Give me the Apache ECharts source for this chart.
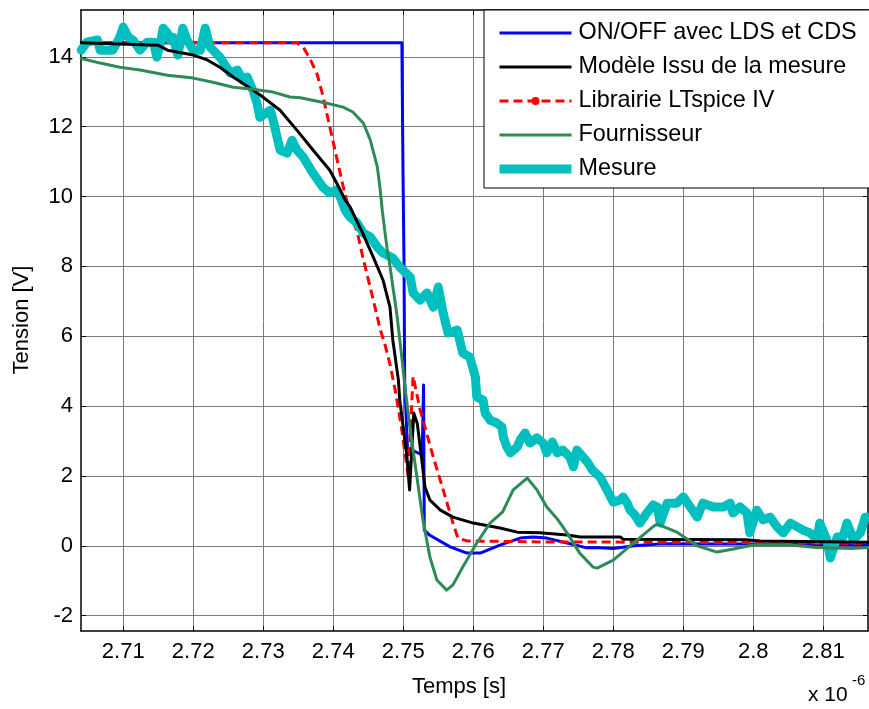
<!DOCTYPE html>
<html><head><meta charset="utf-8">
<script src="https://cdn.jsdelivr.net/npm/echarts@6/dist/echarts.min.js"></script>
<style>html,body{margin:0;padding:0;background:#fff}#c{width:869px;height:709px}</style>
</head><body><div id="c"></div>
<script>
const FONT = '"Liberation Sans", Arial, sans-serif';
const xTicks = [2.71, 2.72, 2.73, 2.74, 2.75, 2.76, 2.77, 2.78, 2.79, 2.80, 2.81];
const yTicks = [-2, 0, 2, 4, 6, 8, 10, 12, 14];
const xRange = [2.70396, 2.81639];
const yRange = [-2.44, 15.34];
const names = ['ON/OFF avec LDS et CDS', 'Modèle Issu de la mesure', 'Librairie LTspice IV', 'Fournisseur', 'Mesure'];

// time in µs (x 10^-6 s), voltage in V
const onoff = [
  [2.7040,14.4],[2.7498,14.4],[2.74996,10.75],[2.7501,8.2],[2.7502,4.7],[2.7506,2.8],[2.7527,2.6],
  [2.7529,4.6],[2.7530,0.45],[2.7538,0.3],[2.7567,-0.03],[2.7591,-0.21],[2.7610,-0.21],[2.7638,0.02],
  [2.7667,0.22],[2.7685,0.25],[2.7705,0.22],[2.7734,0.08],[2.7762,-0.06],[2.7781,-0.06],[2.7800,-0.08],
  [2.7830,0.0],[2.7870,0.06],[2.7950,0.05],[2.8000,0.05],[2.8100,0.03],[2.8164,0.02]
];
const modele = [
  [2.7040,14.4],[2.7150,14.33],[2.7163,14.19],[2.7200,14.05],[2.7220,13.91],[2.7238,13.70],[2.7257,13.42],
  [2.7285,13.05],[2.7296,12.90],[2.7324,12.47],[2.7348,11.9],[2.7371,11.33],[2.7395,10.75],[2.7405,10.38],
  [2.7417,9.9],[2.7424,9.7],[2.7442,8.95],[2.7457,8.27],[2.7471,7.61],[2.7481,6.83],[2.7485,5.9],
  [2.7493,4.75],[2.7495,4.17],[2.7505,2.6],[2.7509,1.6],[2.7515,3.8],[2.7520,3.5],[2.7527,2.37],
  [2.7531,1.68],[2.7538,1.31],[2.7553,1.02],[2.7571,0.82],[2.7600,0.65],[2.7638,0.51],[2.7663,0.39],
  [2.7695,0.37],[2.7734,0.31],[2.7753,0.25],[2.7810,0.25],[2.7814,0.19],[2.7990,0.17],[2.8010,0.14],
  [2.8164,0.1]
];
const ltspice = [
  [2.7040,14.4],[2.7348,14.4],[2.7357,14.28],[2.7367,13.93],[2.7377,13.5],[2.7385,12.9],[2.7395,12.0],
  [2.7405,11.1],[2.7414,10.3],[2.7424,9.5],[2.7434,9.0],[2.7443,8.2],[2.7457,7.05],[2.7467,6.2],
  [2.7474,5.75],[2.7481,5.2],[2.7489,4.4],[2.7498,3.3],[2.7507,2.0],[2.7514,4.85],[2.7524,3.9],
  [2.7542,2.6],[2.7557,1.6],[2.7571,0.65],[2.7578,0.22],[2.7591,0.14],[2.7700,0.11],[2.7900,0.1],
  [2.8164,0.07]
];
const fournisseur = [
  [2.7040,13.95],[2.7067,13.82],[2.7095,13.70],[2.7124,13.62],[2.7163,13.47],[2.7200,13.39],[2.7228,13.27],
  [2.7257,13.13],[2.7285,13.07],[2.7314,12.99],[2.7338,12.85],[2.7353,12.83],[2.7391,12.67],[2.7414,12.56],
  [2.7428,12.42],[2.7443,12.10],[2.7453,11.61],[2.7463,10.84],[2.7467,10.2],[2.7470,9.6],[2.7474,8.95],
  [2.7477,8.5],[2.7481,8.0],[2.7491,6.6],[2.7499,5.2],[2.7503,4.45],[2.7510,3.3],[2.7520,1.9],
  [2.7528,0.75],[2.7538,-0.32],[2.7548,-0.98],[2.7562,-1.27],[2.7571,-1.12],[2.7585,-0.61],[2.7605,0.08],
  [2.7624,0.65],[2.7642,0.97],[2.7657,1.6],[2.7677,1.94],[2.7691,1.6],[2.7705,1.11],[2.7720,0.77],
  [2.7734,0.37],[2.7752,-0.21],[2.7771,-0.61],[2.7777,-0.64],[2.7800,-0.41],[2.7830,0.1],[2.7857,0.55],
  [2.7863,0.62],[2.7890,0.4],[2.7920,0.0],[2.7948,-0.18],[2.7970,-0.1],[2.8000,0.02],[2.8050,0.03],
  [2.8090,-0.05],[2.8140,-0.08],[2.8164,-0.05]
];
const mesure = [
  [2.7040,14.19],[2.7048,14.42],[2.7063,14.48],[2.7067,14.19],[2.7085,14.19],[2.7095,14.56],[2.7100,14.85],
  [2.7107,14.56],[2.7114,14.48],[2.7124,14.19],[2.7134,14.42],[2.7143,14.42],[2.7148,13.99],[2.7153,14.39],
  [2.7157,14.82],[2.7163,14.68],[2.7167,14.48],[2.7171,14.56],[2.7178,14.05],[2.7185,14.82],[2.7191,14.48],
  [2.7200,14.19],[2.7210,14.19],[2.7217,14.82],[2.7224,14.28],[2.7238,13.99],[2.7253,13.53],[2.7263,13.62],
  [2.7271,13.33],[2.7277,13.42],[2.7285,13.05],[2.7291,12.67],[2.7295,12.27],[2.7310,12.47],[2.7314,12.19],
  [2.7324,11.33],[2.7334,11.24],[2.7341,11.61],[2.7348,11.33],[2.7357,11.13],[2.7371,10.67],[2.7385,10.27],
  [2.7395,10.10],[2.7405,10.19],[2.7410,9.98],[2.7417,9.61],[2.7424,9.41],[2.7434,9.24],[2.7443,8.95],
  [2.7453,8.84],[2.7463,8.55],[2.7471,8.38],[2.7485,8.24],[2.7495,7.98],[2.7510,7.69],[2.7514,7.24],
  [2.7524,7.03],[2.7534,7.24],[2.7543,6.83],[2.7550,7.41],[2.7557,6.66],[2.7564,6.09],[2.7577,6.18],
  [2.7585,5.52],[2.7595,5.40],[2.7603,4.83],[2.7605,4.26],[2.7614,4.17],[2.7617,3.80],[2.7624,3.60],
  [2.7634,3.51],[2.7641,3.40],[2.7643,3.11],[2.7648,2.83],[2.7653,2.66],[2.7663,2.83],[2.7667,3.03],
  [2.7674,3.23],[2.7681,2.94],[2.7691,3.09],[2.7700,2.94],[2.7705,2.66],[2.7713,2.97],[2.7720,2.66],
  [2.7728,2.74],[2.7738,2.54],[2.7743,2.26],[2.7748,2.74],[2.7763,2.40],[2.7770,2.17],[2.7781,1.97],
  [2.7791,1.60],[2.7800,1.25],[2.7810,1.31],[2.7814,1.40],[2.7820,1.22],[2.7824,1.02],[2.7831,0.88],
  [2.7838,0.65],[2.7848,0.94],[2.7857,1.17],[2.7863,1.11],[2.7867,0.65],[2.7877,1.22],[2.7891,1.22],
  [2.7900,1.40],[2.7910,1.11],[2.7920,0.82],[2.7928,1.22],[2.7943,1.11],[2.7957,1.11],[2.7967,1.22],
  [2.7971,0.94],[2.7981,1.11],[2.7991,0.94],[2.7995,0.37],[2.8005,1.02],[2.8014,0.74],[2.8024,0.82],
  [2.8034,0.54],[2.8043,0.37],[2.8053,0.65],[2.8063,0.54],[2.8071,0.45],[2.8081,0.37],[2.8091,0.17],
  [2.8095,0.65],[2.8105,0.17],[2.8110,-0.35],[2.8120,0.25],[2.8128,0.25],[2.8134,0.65],[2.8143,0.17],
  [2.8153,0.37],[2.8160,0.82],[2.8164,0.82]
];

const chart = echarts.init(document.getElementById('c'), null, {renderer: 'canvas'});
const fmtX = v => String(Number(v.toFixed(2)));
const baseAxisX = {
  type: 'value', min: xRange[0], max: xRange[1],
  axisLine: {show: true, onZero: false, lineStyle: {color: '#000', width: 1.5}},
  axisTick: {show: true, inside: true, length: 5, customValues: xTicks, lineStyle: {color: '#000', width: 1}},
};
const baseAxisY = {
  type: 'value', min: yRange[0], max: yRange[1],
  axisLine: {show: true, onZero: false, lineStyle: {color: '#000', width: 1.5}},
  axisTick: {show: true, inside: true, length: 5, customValues: yTicks, lineStyle: {color: '#000', width: 1}},
};
const lineSeries = (name, data, color, width, extra) => Object.assign({
  name, type: 'line', data, xAxisIndex: 0, yAxisIndex: 0, symbol: 'none', showSymbol: false,
  animation: false, silent: true, clip: true,
  lineStyle: {color, width, cap: 'round', join: 'round'}, itemStyle: {color}
}, extra || {});
const hidden = {color: 'rgba(0,0,0,0)', borderWidth: 0};

chart.setOption({
  animation: false,
  backgroundColor: '#fff',
  grid: {left: 81, top: 10, right: 1, bottom: 78, containLabel: false},
  xAxis: [
    Object.assign({}, baseAxisX, {
      position: 'bottom',
      axisLabel: {show: true, customValues: xTicks, formatter: fmtX, color: '#000', fontSize: 22, fontFamily: FONT, margin: 10},
      splitLine: {show: true, lineStyle: {color: '#7a7a7a', width: 1}}
    }),
    Object.assign({}, baseAxisX, {
      position: 'top', axisLabel: {show: false}, splitLine: {show: false}
    })
  ],
  yAxis: [
    Object.assign({}, baseAxisY, {
      position: 'left',
      axisLabel: {show: true, customValues: yTicks, color: '#000', fontSize: 22, fontFamily: FONT, margin: 8},
      splitLine: {show: true, lineStyle: {color: '#7a7a7a', width: 1}}
    }),
    Object.assign({}, baseAxisY, {
      position: 'right', axisLabel: {show: false}, splitLine: {show: false}
    })
  ],
  legend: {
    data: [
      {name: names[0], itemStyle: hidden},
      {name: names[1], itemStyle: hidden},
      {name: names[2]},
      {name: names[3], itemStyle: hidden},
      {name: names[4], itemStyle: hidden}
    ],
    orient: 'vertical', left: 484, top: 10,
    padding: [11, 14, 7, 11], itemGap: 10, itemWidth: 72, itemHeight: 10,
    backgroundColor: '#fff', borderColor: '#000', borderWidth: 1, borderRadius: 0,
    textStyle: {color: '#000', fontSize: 23.4, fontFamily: FONT, lineHeight: 24, padding: [0, 0, 0, 2]},
    itemStyle: {borderWidth: 0},
    lineStyle: {width: 'inherit', cap: 'butt'},
    selectedMode: false
  },
  graphic: [
    {type: 'text', x: 459, y: 687, silent: true, style: {text: 'Temps [s]', fill: '#000', font: '22px ' + FONT, textAlign: 'center', textVerticalAlign: 'middle'}},
    {type: 'text', x: 22, y: 320, rotation: Math.PI / 2, silent: true, style: {text: 'Tension [V]', fill: '#000', font: '22px ' + FONT, textAlign: 'center', textVerticalAlign: 'middle'}},
    {type: 'text', x: 808, y: 695, silent: true, style: {text: 'x 10', fill: '#000', font: '21px ' + FONT, textAlign: 'left', textVerticalAlign: 'middle'}},
    {type: 'text', x: 852, y: 681, silent: true, style: {text: '-6', fill: '#000', font: '15px ' + FONT, textAlign: 'left', textVerticalAlign: 'middle'}}
  ],
  series: [
    lineSeries(names[0], onoff, '#0000ff', 3),
    lineSeries(names[2], ltspice, '#ff0000', 3, {symbol: 'circle', symbolSize: 8, showSymbol: false,
      lineStyle: {color: '#ff0000', width: 3, type: [9, 5], cap: 'butt', join: 'round'}}),
    lineSeries(names[4], mesure, '#00bfbf', 9),
    lineSeries(names[1], modele, '#000000', 3),
    lineSeries(names[3], fournisseur, '#2e8b57', 3)
  ]
});
</script>
</body></html>
